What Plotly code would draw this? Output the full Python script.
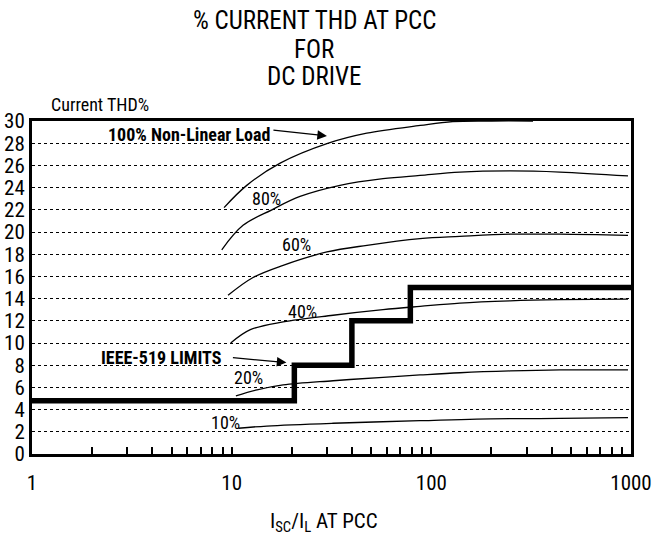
import numpy as np
import plotly.graph_objects as go

# Short-circuit ratio (Isc/IL) sample points and current THD% for each load level
x_100 = [9.16, 11.9, 17.5, 30.5, 47.5, 88, 128, 200, 323]
y_100 = [22.2, 24.2, 26.2, 28.0, 28.9, 29.6, 29.95, 30.0, 30.0]

x_80 = [8.92, 11.4, 15.9, 22.0, 34.9, 57.3, 87.8, 139, 248, 441, 966]
y_80 = [18.4, 20.6, 22.0, 23.2, 24.2, 24.8, 25.1, 25.4, 25.5, 25.4, 25.05]

x_60 = [9.59, 12.8, 18.1, 30.0, 47.6, 87.8, 139, 248, 441, 966]
y_60 = [14.3, 15.9, 17.0, 18.2, 18.8, 19.4, 19.6, 19.8, 19.8, 19.7]

x_40 = [9.89, 12.4, 18.1, 32.2, 57.3, 87.8, 139, 248, 441, 966]
y_40 = [10.0, 11.2, 11.9, 12.5, 13.0, 13.3, 13.6, 13.8, 13.9, 13.95]

x_20 = [10.5, 13.4, 18.1, 32.2, 57.3, 87.8, 139, 248, 441, 966]
y_20 = [5.23, 5.77, 6.22, 6.60, 6.91, 7.12, 7.32, 7.48, 7.57, 7.57]

x_10 = [10.8, 15.0, 32.2, 87.8, 169, 441, 966]
y_10 = [2.32, 2.52, 2.77, 3.0, 3.15, 3.21, 3.27]

# IEEE-519 current distortion limits (step boundaries and levels)
ieee_x = [1, 20.6, 20.6, 40, 40, 78.5, 78.5, 1000]
ieee_y = [4.8, 4.8, 8, 8, 12, 12, 15, 15]

curve_labels = ["10%", "20%", "40%", "60%", "80%"]
curve_label_x = [9.26, 12.2, 22.6, 21.0, 15.0]
curve_label_y = [2.84, 6.85, 12.88, 18.83, 23.02]

x_tickvals = [1, 2, 3, 4, 5, 6, 7, 8, 9,
              10, 20, 30, 40, 50, 60, 70, 80, 90,
              100, 200, 300, 400, 500, 600, 700, 800, 900, 1000]
x_ticktext = ["1" if v == 1 else "10" if v == 10 else "100" if v == 100
              else "1000" if v == 1000 else "" for v in x_tickvals]
y_tickvals = list(range(0, 31, 2))

FONT = "Liberation Sans Narrow, Arial Narrow, Roboto Condensed, DejaVu Sans Condensed, sans-serif"

fig = go.Figure()

for xs, ys in [(x_100, y_100), (x_80, y_80), (x_60, y_60),
               (x_40, y_40), (x_20, y_20), (x_10, y_10)]:
    fig.add_trace(go.Scatter(x=xs, y=ys, mode="lines",
                             line=dict(color="black", width=1.3, shape="spline", smoothing=1.0),
                             hoverinfo="skip", showlegend=False))

fig.add_trace(go.Scatter(x=ieee_x, y=ieee_y, mode="lines",
                         line=dict(color="black", width=5.5),
                         hoverinfo="skip", showlegend=False))

annotations = []
for t, lx, ly in zip(curve_labels, curve_label_x, curve_label_y):
    annotations.append(dict(x=np.log10(lx), y=ly, xref="x", yref="y", text=t,
                            showarrow=False, font=dict(family=FONT, size=18, color="black")))

annotations.append(dict(x=np.log10(30.0), y=28.65, xref="x", yref="y",
                        ax=-55, ay=-6, text="", showarrow=True,
                        arrowhead=2, arrowsize=1.6, arrowwidth=1.2, arrowcolor="black"))
annotations.append(dict(x=np.log10(6.08), y=28.74, xref="x", yref="y",
                        text="<b>100% Non-Linear Load</b>", showarrow=False,
                        font=dict(family=FONT, size=18, color="black")))

annotations.append(dict(x=np.log10(18.8), y=8.24, xref="x", yref="y",
                        ax=-55, ay=-5, text="", showarrow=True,
                        arrowhead=2, arrowsize=1.6, arrowwidth=1.2, arrowcolor="black"))
annotations.append(dict(x=np.log10(4.43), y=8.69, xref="x", yref="y",
                        text="<b>IEEE-519 LIMITS</b>", showarrow=False,
                        font=dict(family=FONT, size=18, color="black")))

# Three-line title
for t, py in [("% CURRENT THD AT PCC", 1.303), ("FOR", 1.216), ("DC DRIVE", 1.134)]:
    annotations.append(dict(x=0.471, y=py, xref="paper", yref="paper", text=t,
                            showarrow=False, xanchor="center", yanchor="middle",
                            font=dict(family=FONT, size=25, color="black")))

# Axis captions
annotations.append(dict(x=0.028, y=1.05, xref="paper", yref="paper", text="Current THD%",
                        showarrow=False, xanchor="left", yanchor="middle",
                        font=dict(family=FONT, size=18, color="black")))
annotations.append(dict(x=0.487, y=-0.205, xref="paper", yref="paper",
                        text="I<sub>SC</sub>/I<sub>L</sub> AT PCC",
                        showarrow=False, xanchor="center", yanchor="middle",
                        font=dict(family=FONT, size=21, color="black")))

fig.update_layout(
    width=653, height=535,
    margin=dict(l=32, r=22, t=121, b=81),
    paper_bgcolor="white", plot_bgcolor="white",
    annotations=annotations,
    font=dict(family=FONT, color="black"),
)

fig.update_xaxes(type="log", range=[0, 3], automargin=False,
                 tickvals=x_tickvals, ticktext=x_ticktext,
                 ticks="inside", ticklen=7, tickwidth=2, tickcolor="black",
                 tickfont=dict(family=FONT, size=21, color="black"),
                 ticklabelstandoff=8,
                 showline=True, linewidth=3, linecolor="black", mirror=True,
                 showgrid=False, zeroline=False)

fig.update_yaxes(range=[0, 30], tickvals=y_tickvals, automargin=False,
                 ticks="", tickfont=dict(family=FONT, size=21, color="black"),
                 ticklabelstandoff=0,
                 showline=True, linewidth=3, linecolor="black", mirror=True,
                 showgrid=True, gridcolor="black", gridwidth=1, griddash="3px,3px",
                 zeroline=False)

fig.write_html("out.html")
